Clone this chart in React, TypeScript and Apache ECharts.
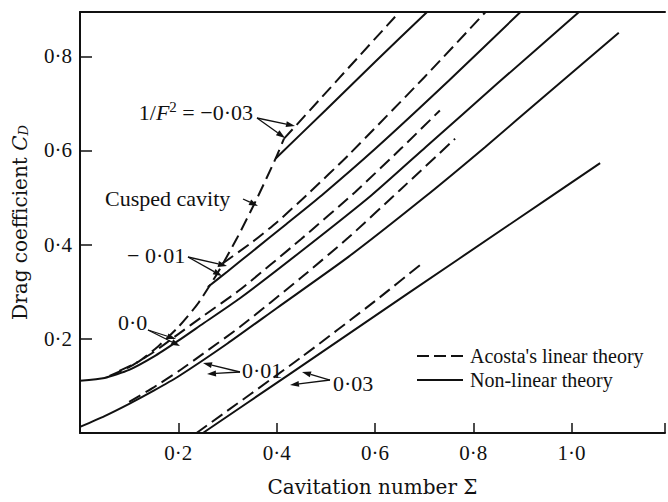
import React, { useEffect, useRef } from "react";
import * as echarts from "echarts";

// Acosta's linear theory (dashed), [Σ, C_D]
const linearM003: number[][] = [[0.415, 0.625], [0.641, 0.884]];
const linearM001: number[][] = [[0.29, 0.36], [0.35, 0.405], [0.4, 0.447], [0.466, 0.51], [0.546, 0.59], [0.7, 0.755], [0.825, 0.894]];
const linear000: number[][] = [[0.06, 0.121], [0.1, 0.14], [0.15, 0.172], [0.2, 0.21], [0.25, 0.248], [0.324, 0.303], [0.45, 0.412], [0.56, 0.512], [0.654, 0.605], [0.732, 0.685]];
const linearP001: number[][] = [[0.1, 0.066], [0.15, 0.097], [0.2, 0.131], [0.25, 0.168], [0.325, 0.225], [0.45, 0.33], [0.546, 0.415], [0.65, 0.515], [0.763, 0.625]];
const linearP003: number[][] = [[0.237, 0], [0.449, 0.16], [0.6, 0.28], [0.698, 0.362]];
const cuspedCavity: number[][] = [[0.08, 0.132], [0.12, 0.152], [0.16, 0.185], [0.2, 0.225], [0.24, 0.275], [0.28, 0.34], [0.32, 0.415], [0.36, 0.498], [0.398, 0.583], [0.415, 0.625]];

// Non-linear theory (solid)
const nonLinM003: number[][] = [[0.398, 0.583], [0.5, 0.686], [0.6, 0.788], [0.706, 0.894]];
const nonLinM001: number[][] = [[0.26, 0.31], [0.3, 0.343], [0.35, 0.385], [0.42, 0.444], [0.492, 0.505], [0.6, 0.603], [0.75, 0.748], [0.896, 0.894]];
const nonLin000: number[][] = [[0, 0.111], [0.05, 0.117], [0.1, 0.134], [0.15, 0.162], [0.2, 0.196], [0.25, 0.232], [0.324, 0.285], [0.45, 0.386], [0.593, 0.505], [0.704, 0.608], [0.85, 0.743], [1.015, 0.894]];
const nonLinP001: number[][] = [[0, 0.013], [0.05, 0.036], [0.1, 0.062], [0.15, 0.09], [0.2, 0.12], [0.3, 0.19], [0.4, 0.265], [0.546, 0.374], [0.7, 0.5], [0.825, 0.608], [0.95, 0.72], [1.096, 0.85]];
const nonLinP003: number[][] = [[0.25, 0], [0.425, 0.124], [0.668, 0.297], [0.87, 0.44], [1.058, 0.573]];

const xTicks = [0.2, 0.4, 0.6, 0.8, 1.0];
const yTicks = [0.2, 0.4, 0.6, 0.8];

const FONT = "Liberation Serif";
const TITLE_FONT = "DejaVu Serif";
const INK = "#111";

function fmt(v: number, ticks: number[]) {
  const hit = ticks.find((t) => Math.abs(t - v) < 1e-6);
  return hit === undefined ? "" : hit.toFixed(1).replace(".", "·");
}

function arrow(x1: number, y1: number, x2: number, y2: number) {
  const ang = Math.atan2(y2 - y1, x2 - x1);
  const L = 9, W = 3;
  const bx = x2 - L * Math.cos(ang), by = y2 - L * Math.sin(ang);
  const px = -Math.sin(ang) * W, py = Math.cos(ang) * W;
  return [
    { type: "line", shape: { x1, y1, x2: bx, y2: by }, style: { stroke: INK, lineWidth: 1.3 } },
    { type: "polygon", shape: { points: [[x2, y2], [bx + px, by + py], [bx - px, by - py]] }, style: { fill: INK } },
  ];
}

export default function App() {
  const ref = useRef<HTMLDivElement>(null);
  useEffect(() => {
    const chart = echarts.init(ref.current!, null, { renderer: "svg" });
    const dashed = (name: string, data: number[][]) => ({
      type: "line", name, data, showSymbol: false, smooth: 0.2, silent: true,
      lineStyle: { color: INK, width: 2, type: [13, 6] },
    });
    const solid = (name: string, data: number[][]) => ({
      type: "line", name, data, showSymbol: false, smooth: 0.2, silent: true,
      lineStyle: { color: INK, width: 2, type: "solid" },
    });
    const annot = { fontFamily: FONT, fontSize: 22, fill: INK };
    const legendText = { fontFamily: FONT, fontSize: 20, fill: INK };
    const graphics: any[] = [
      { type: "line", shape: { x1: 417, y1: 356, x2: 463, y2: 356 }, style: { stroke: INK, lineWidth: 2, lineDash: [12, 5] } },
      { type: "text", x: 470, y: 356, style: { ...legendText, text: "Acosta's linear theory", verticalAlign: "middle" } },
      { type: "line", shape: { x1: 417, y1: 380, x2: 463, y2: 380 }, style: { stroke: INK, lineWidth: 2 } },
      { type: "text", x: 470, y: 380, style: { ...legendText, text: "Non-linear theory", verticalAlign: "middle" } },
      {
        type: "text", x: 253, y: 112,
        style: {
          ...annot, text: "1/{i|F}{s|2} = −0·03", align: "right", verticalAlign: "middle",
          rich: { i: { fontFamily: FONT, fontSize: 22, fontStyle: "italic" }, s: { fontFamily: FONT, fontSize: 15, padding: [0, 0, 10, 0] } },
        },
      },
      { type: "text", x: 105, y: 198, style: { ...annot, text: "Cusped cavity", verticalAlign: "middle" } },
      { type: "text", x: 127, y: 255, style: { ...annot, text: "− 0·01", verticalAlign: "middle" } },
      { type: "text", x: 118, y: 322, style: { ...annot, text: "0·0", verticalAlign: "middle" } },
      { type: "text", x: 242, y: 370, style: { ...annot, text: "0·01", verticalAlign: "middle" } },
      { type: "text", x: 333, y: 383, style: { ...annot, text: "0·03", verticalAlign: "middle" } },
      ...arrow(257, 118, 295, 126),
      ...arrow(257, 118, 285, 138),
      ...arrow(243, 199, 258, 206),
      ...arrow(188, 257, 227, 266),
      ...arrow(188, 257, 222, 276),
      ...arrow(148, 330, 176, 339),
      ...arrow(148, 330, 180, 346),
      ...arrow(240, 372, 203, 363),
      ...arrow(240, 372, 207, 374),
      ...arrow(330, 380, 302, 372),
      ...arrow(330, 380, 290, 385),
    ];
    chart.setOption({
      animation: false,
      backgroundColor: "#fff",
      grid: { left: 80, right: 0, top: 12, bottom: 58.5 },
      xAxis: [
        {
          type: "value", min: 0, max: 1.19, interval: 0.2,
          name: "Cavitation number Σ", nameLocation: "middle", nameGap: 44,
          nameTextStyle: { fontFamily: TITLE_FONT, fontSize: 20, color: INK },
          axisLine: { lineStyle: { color: INK, width: 2 } },
          axisTick: { inside: true, length: 10, lineStyle: { color: INK, width: 1.5 } },
          axisLabel: { formatter: (v: number) => fmt(v, xTicks), fontFamily: FONT, fontSize: 21, color: INK, margin: 9 },
          splitLine: { show: false },
        },
        {
          type: "value", min: 0, max: 1.19, position: "top",
          axisLine: { show: true, onZero: false, lineStyle: { color: INK, width: 2 } },
          axisTick: { show: false }, axisLabel: { show: false }, splitLine: { show: false },
        },
      ],
      yAxis: {
        type: "value", min: 0, max: 0.894, interval: 0.2,
        name: "Drag coefficient {i|C}{s|D}", nameLocation: "middle", nameGap: 50, nameRotate: 90,
        nameTextStyle: {
          fontFamily: TITLE_FONT, fontSize: 20, color: INK,
          rich: { i: { fontFamily: TITLE_FONT, fontSize: 20, fontStyle: "italic", color: INK }, s: { fontFamily: TITLE_FONT, fontSize: 13, fontStyle: "italic", color: INK, padding: [8, 0, 0, 0] } },
        },
        axisLine: { lineStyle: { color: INK, width: 2 } },
        axisTick: { inside: true, length: 12, lineStyle: { color: INK, width: 1.5 } },
        axisLabel: { formatter: (v: number) => fmt(v, yTicks), fontFamily: FONT, fontSize: 21, color: INK, margin: 8 },
        splitLine: { show: false },
      },
      series: [
        dashed("Acosta −0.03", linearM003),
        solid("Non-linear −0.03", nonLinM003),
        dashed("Acosta −0.01", linearM001),
        solid("Non-linear −0.01", nonLinM001),
        dashed("Acosta 0.0", linear000),
        solid("Non-linear 0.0", nonLin000),
        dashed("Acosta 0.01", linearP001),
        solid("Non-linear 0.01", nonLinP001),
        dashed("Acosta 0.03", linearP003),
        solid("Non-linear 0.03", nonLinP003),
        dashed("Cusped cavity", cuspedCavity),
      ],
      graphic: graphics,
    });
    return () => chart.dispose();
  }, []);
  return <div ref={ref} style={{ position: "absolute", left: 0, top: 0, width: 668, height: 502 }} />;
}
